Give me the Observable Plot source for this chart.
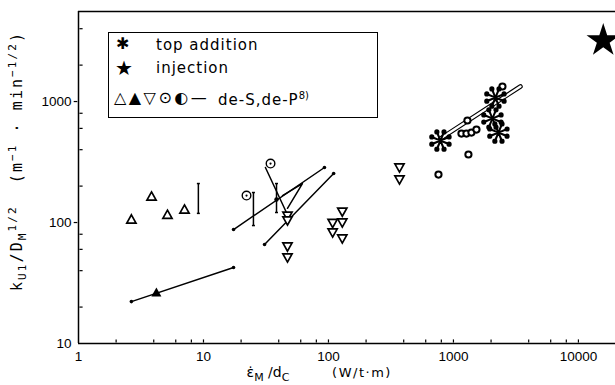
<!DOCTYPE html>
<html>
<head>
<meta charset="utf-8">
<script src="https://cdn.jsdelivr.net/npm/d3@7"></script>
<script src="https://cdn.jsdelivr.net/npm/@observablehq/plot@0.6"></script>
<style>
  body { margin: 0; background: #fff; }
  #chart { position: relative; width: 615px; height: 385px; overflow: hidden; background: #fff; }
  .legend { position: absolute; left: 108px; top: 32px; width: 270px; height: 86px;
            border: 1.5px solid #000; box-sizing: border-box; background: #fff;
            font-family: "DejaVu Sans", sans-serif; color: #000; }
  .legend .sym { position: absolute; white-space: nowrap; line-height: 1; }
  .legend .lab { position: absolute; white-space: nowrap; line-height: 1; font-size: 15px; letter-spacing: 1px; }
  .legend sup { font-size: 10px; vertical-align: 6px; letter-spacing: 0; }
</style>
</head>
<body>
<div id="chart">
  <div class="legend">
    <div class="sym" style="left:7px;top:3px;font-size:16px;">✱</div>
    <div class="lab" style="left:47px;top:5px;">top addition</div>
    <div class="sym" style="left:6px;top:25px;font-size:20px;">★</div>
    <div class="lab" style="left:47px;top:28px;">injection</div>
    <div class="sym" style="left:5px;top:57px;font-size:16px;letter-spacing:2.5px;">△▲▽⊙◐—</div>
    <div class="lab" style="left:109px;top:58px;">de-S,de-P<sup>8)</sup></div>
  </div>
</div>
<script>
// Axis extents and tick values
const xDomain = [1, 19800];
const yDomain = [10, 5550];
const xMajor = [1, 10, 100, 1000, 10000];
const yMajor = [10, 100, 1000];
const xMinor = [2, 4, 6, 8, 20, 40, 60, 80, 200, 400, 600, 800, 2000, 4000, 6000, 8000];
const yMinor = [20, 40, 60, 80, 200, 400, 600, 800, 2000, 4000];

// de-S, de-P data (open up-triangles)
const openUpX = [2.65, 3.84, 5.15, 7.05];
const openUpY = [106, 164, 116, 128];
// filled up-triangle
const filledUpX = [4.2];
const filledUpY = [26.4];
// open down-triangles
const openDownX = [47, 47, 47, 47, 108, 108, 129, 129, 129, 370, 370];
const openDownY = [114, 104, 63.3, 51.4, 99.2, 82.7, 123, 100, 73.8, 285, 227];
// dotted circles
const dotCircleX = [34.4, 22.1];
const dotCircleY = [307, 167];
// half-filled circles
const halfCircleX = [759, 1318, 1159, 1271, 1393, 1528, 1294, 2466];
const halfCircleY = [249, 365, 544, 544, 554, 587, 697, 1331];
// top addition
const topAddX = [787, 2168, 2051, 2291];
const topAddY = [476, 1079, 724, 554];
// injection
const injectionX = [15800];
const injectionY = [3190];

// ranges (vertical bars)
const rangeX = [9.1, 25.1, 38.4];
const rangeLo = [119, 94.4, 121];
const rangeHi = [210, 177, 210];
const rangeMidX = [38.4];
const rangeMidY = [155];

// correlation lines (endpoints)
const lineA = [[2.65, 22.2], [17.4, 42.5]];
const lineB = [[17.4, 87.5], [92.9, 285]];
const lineC = [[30.8, 65.8], [110, 254]];
const lineD = [[31.3, 285], [46.1, 121]];
const lineE = [[42.9, 167], [61.9, 210], [47, 131]];
const tube = [[787, 494], [3436, 1331]];

const pts = (xs, ys) => xs.map((x, i) => ({x, y: ys[i]}));
const dottedLines = [lineA, lineB, lineC];
const segs = [lineA, lineB, lineC, lineD, lineE].map((l, k) => l.map(([x, y]) => ({x, y, k}))).flat();
const ends = dottedLines.flat().map(([x, y]) => ({x, y}));
const tubePts = tube.map(([x, y]) => ({x, y}));
const ranges = rangeX.map((x, i) => ({x, lo: rangeLo[i], hi: rangeHi[i]}));

// custom symbols
const triUp = {draw(c, s) { const r = Math.sqrt(s / Math.PI); c.moveTo(0, -r); c.lineTo(r, 0.78 * r); c.lineTo(-r, 0.78 * r); c.closePath(); }};
const triDown = {draw(c, s) { const r = Math.sqrt(s / Math.PI); c.moveTo(0, r); c.lineTo(r, -0.78 * r); c.lineTo(-r, -0.78 * r); c.closePath(); }};
const hLine = {draw(c, s) { const r = Math.sqrt(s / Math.PI); c.moveTo(-r, 0); c.lineTo(r, 0); }};
const vLine = {draw(c, s) { const r = Math.sqrt(s / Math.PI); c.moveTo(0, -r); c.lineTo(0, r); }};
// eight-spoked asterisk with round tips
const flower = {draw(c, s) {
  const R = Math.sqrt(s / Math.PI), n = 8;
  for (let i = 0; i < n; ++i) {
    const a = (i / n) * 2 * Math.PI + Math.PI / 8;
    const ux = Math.cos(a), uy = Math.sin(a), px = -uy, py = ux;
    const w0 = R * 0.07, w1 = R * 0.09, L = R * 0.72;
    c.moveTo(-px * w0, -py * w0);
    c.lineTo(ux * L - px * w1, uy * L - py * w1);
    c.lineTo(ux * L + px * w1, uy * L + py * w1);
    c.lineTo(px * w0, py * w0);
    c.closePath();
    const cx = ux * L, cy = uy * L, cr = R * 0.2;
    c.moveTo(cx + cr, cy);
    c.arc(cx, cy, cr, 0, 2 * Math.PI);
  }
}};

const plot = Plot.plot({
  width: 615,
  height: 385,
  marginLeft: 78,
  marginRight: 0,
  marginTop: 11,
  marginBottom: 42,
  x: {type: "log", domain: xDomain, label: null},
  y: {type: "log", domain: yDomain, label: null},
  style: {fontFamily: "Liberation Sans, sans-serif", fontSize: "13.5px", color: "#000", background: "#fff"},
  marks: [
    // frame lines
    Plot.ruleX([xDomain[0]], {stroke: "#000", strokeWidth: 1.5}),
    Plot.ruleY([yDomain[0]], {stroke: "#000", strokeWidth: 1.5}),
    Plot.ruleY([yDomain[1]], {stroke: "#000", strokeWidth: 1.5}),
    // tick labels
    Plot.axisX({ticks: xMajor, tickSize: 0, tickPadding: 8, tickFormat: d => String(d), label: null}),
    Plot.axisY({ticks: yMajor, tickSize: 0, tickPadding: 7, tickFormat: d => String(d), label: null}),
    // tick marks: inward minor ticks, outward major ticks on y
    Plot.dot(xMinor.concat(xMajor.slice(1)), {x: d => d, frameAnchor: "bottom", symbol: vLine, r: 1.6, dy: -2.5, stroke: "#000", strokeWidth: 1.2}),
    Plot.dot(yMinor, {y: d => d, frameAnchor: "left", symbol: hLine, r: 1.6, dx: 2.5, stroke: "#000", strokeWidth: 1.2}),
    Plot.dot(yMajor.slice(1), {y: d => d, frameAnchor: "left", symbol: hLine, r: 1.8, dx: -3, stroke: "#000", strokeWidth: 1.2}),
    // correlation lines
    Plot.line(segs, {x: "x", y: "y", z: "k", stroke: "#000", strokeWidth: 1.5}),
    Plot.dot(ends, {x: "x", y: "y", r: 1.8, fill: "#000"}),
    // ranges
    Plot.link(ranges, {x1: "x", x2: "x", y1: "lo", y2: "hi", stroke: "#000", strokeWidth: 1.5}),
    Plot.dot(ranges, {x: "x", y: "lo", symbol: hLine, r: 1.5, stroke: "#000", strokeWidth: 1.5}),
    Plot.dot(ranges, {x: "x", y: "hi", symbol: hLine, r: 1.5, stroke: "#000", strokeWidth: 1.5}),
    Plot.dot(pts(rangeMidX, rangeMidY), {x: "x", y: "y", r: 2.2, fill: "#000"}),
    // double-line band
    Plot.line(tubePts, {x: "x", y: "y", stroke: "#000", strokeWidth: 4.6, strokeLinecap: "round"}),
    Plot.line(tubePts, {x: "x", y: "y", stroke: "#fff", strokeWidth: 2.4, strokeLinecap: "round"}),
    // markers
    Plot.dot(pts(openUpX, openUpY), {x: "x", y: "y", symbol: triUp, r: 4.6, stroke: "#000", fill: "#fff", strokeWidth: 1.7}),
    Plot.dot(pts(filledUpX, filledUpY), {x: "x", y: "y", symbol: triUp, r: 5, fill: "#000"}),
    Plot.dot(pts(openDownX, openDownY), {x: "x", y: "y", symbol: triDown, r: 4.6, stroke: "#000", fill: "#fff", strokeWidth: 1.7}),
    Plot.dot(pts(dotCircleX, dotCircleY), {x: "x", y: "y", r: 4.3, stroke: "#000", fill: "#fff", strokeWidth: 1.4}),
    Plot.dot(pts(dotCircleX, dotCircleY), {x: "x", y: "y", r: 1.1, fill: "#000"}),
    Plot.dot(pts(halfCircleX, halfCircleY), {x: "x", y: "y", r: 3.1, stroke: "#000", fill: "#fff", strokeWidth: 2}),
    Plot.dot(pts(topAddX, topAddY), {x: "x", y: "y", symbol: flower, r: 13, fill: "#000"}),
    Plot.dot(pts(injectionX, injectionY), {x: "x", y: "y", symbol: "star", r: 10.5, fill: "#000"})
  ]
});

// axis titles with sub/superscripts
function rich(sel, parts) {
  let shift = 0;
  for (const [t, kind] of parts) {
    const target = kind === "sub" ? 4 : kind === "sup" ? -6 : 0;
    sel.append("tspan")
      .attr("dy", target - shift)
      .attr("font-size", kind ? "11px" : null)
      .text(t);
    shift = target;
  }
}
const svg = d3.select(plot);
const yTitle = svg.append("text")
  .attr("transform", "translate(22,162) rotate(-90)")
  .attr("text-anchor", "middle")
  .attr("font-family", "DejaVu Sans Mono, monospace")
  .attr("font-size", "15px")
  .attr("fill", "#000")
  .attr("textLength", 258)
  .attr("lengthAdjust", "spacing");
rich(yTitle, [["k"], ["U1", "sub"], ["/D"], ["M", "sub"], ["1/2", "sup"], ["  (m"], ["−1", "sup"], [" · min"], ["−1/2", "sup"], [")"]]);

const xTitle = svg.append("text")
  .attr("x", 268).attr("y", 377)
  .attr("font-family", "DejaVu Sans, sans-serif")
  .attr("font-size", "14px")
  .attr("fill", "#000");
rich(xTitle, [["ε̇"], ["M", "sub"], [" /d"], ["C", "sub"]]);
svg.append("text")
  .attr("x", 362).attr("y", 377)
  .attr("font-family", "DejaVu Sans, sans-serif")
  .attr("font-size", "13px")
  .attr("letter-spacing", "1.5px")
  .attr("fill", "#000")
  .text("(W/t·m)");

document.getElementById("chart").prepend(plot);
</script>
</body>
</html>
